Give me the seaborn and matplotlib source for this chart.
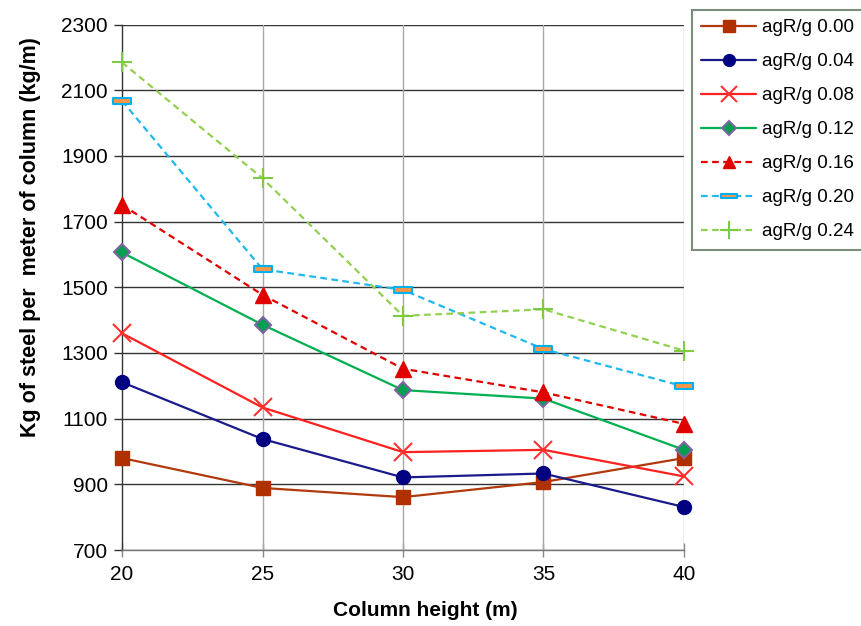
import matplotlib
matplotlib.use("Agg")
import matplotlib.pyplot as plt
import seaborn as sns
import pandas as pd
import numpy as np
from matplotlib.path import Path

heights = [20, 25, 30, 35, 40]
series_labels = ["agR/g 0.00", "agR/g 0.04", "agR/g 0.08", "agR/g 0.12",
                 "agR/g 0.16", "agR/g 0.20", "agR/g 0.24"]
v000 = [980, 889, 861, 907, 980]
v004 = [1211, 1038, 921, 933, 831]
v008 = [1360, 1134, 998, 1005, 924]
v012 = [1606, 1386, 1187, 1161, 1005]
v016 = [1751, 1477, 1252, 1180, 1084]
v020 = [2068, 1555, 1492, 1312, 1198]
v024 = [2185, 1832, 1413, 1433, 1307]
values = [v000, v004, v008, v012, v016, v020, v024]
yticks = [700, 900, 1100, 1300, 1500, 1700, 1900, 2100, 2300]
xticks = [20, 25, 30, 35, 40]

rows = []
for lab, vals in zip(series_labels, values):
    for h, v in zip(heights, vals):
        rows.append({"height": h, "steel": v, "series": lab})
df = pd.DataFrame(rows)

sns.set_theme(style="white")
plt.rcParams['font.family'] = ['Liberation Sans', 'DejaVu Sans']
plt.rcParams['text.color'] = 'black'
plt.rcParams['axes.labelcolor'] = 'black'
plt.rcParams['xtick.color'] = 'black'
plt.rcParams['ytick.color'] = 'black'

fig = plt.figure(figsize=(8.61, 6.26), dpi=100)
ax = fig.add_axes([122/861, 1-550/626, (684-122)/861, (550-24.6)/626])

dash_marker = Path([(-1, -0.32), (1, -0.32), (1, 0.32), (-1, 0.32), (-1, -0.32)],
                   [Path.MOVETO, Path.LINETO, Path.LINETO, Path.LINETO, Path.CLOSEPOLY])

styles = [
    dict(color="#B03A0E", marker="s", ms=10, mfc="#B03000", mec="#B03000", ls="-", mew=1),
    dict(color="#1A1A8C", marker="o", ms=10, mfc="#000080", mec="#000080", ls="-", mew=1),
    dict(color="#FF2020", marker="x", ms=13, mfc="#FF3030", mec="#FF3030", ls="-", mew=1.5),
    dict(color="#00B050", marker="D", ms=8, mfc="#00A050", mec="#8064A2", ls="-", mew=1.5),
    dict(color="#E00000", marker="^", ms=11, mfc="#E00000", mec="#E00000", ls=(0, (3, 2)), mew=1),
    dict(color="#20B8F0", marker=dash_marker, ms=13, mfc="#F79646", mec="#00B0F0", ls=(0, (3, 2)), mew=1.5),
    dict(color="#92D050", marker="+", ms=15, mfc="#92D050", mec="#7CCB40", ls=(0, (3, 2)), mew=1.5),
]

palette = {lab: st["color"] for lab, st in zip(series_labels, styles)}
sns.lineplot(data=df, x="height", y="steel", hue="series", palette=palette,
             hue_order=series_labels, ax=ax, legend=False, linewidth=1.6)

for line, st in zip(ax.get_lines(), styles):
    line.set_linestyle(st["ls"])
    line.set_marker(st["marker"])
    line.set_markersize(st["ms"])
    line.set_markerfacecolor(st["mfc"])
    line.set_markeredgecolor(st["mec"])
    line.set_markeredgewidth(st["mew"])
    line.set_clip_on(False)
    line.set_zorder(3)

ax.set_xlim(20, 40)
ax.set_ylim(700, 2300)
ax.set_xticks(xticks)
ax.set_yticks(yticks)
ax.set_xticklabels([str(t) for t in xticks], fontsize=15, color="black")
ax.set_yticklabels([str(t) for t in yticks], fontsize=15, color="black")

ax.grid(False)
for y in yticks:
    ax.axhline(y, color="#333333", lw=1.0, zorder=1)
for x in xticks[1:]:
    ax.axvline(x, color="#A8A8A8", lw=1.0, zorder=1)

for s in ["top", "right"]:
    ax.spines[s].set_visible(False)
ax.spines["left"].set_color("#333333")
ax.spines["left"].set_linewidth(1.0)
ax.spines["bottom"].set_color("#777777")
ax.spines["bottom"].set_linewidth(1.0)
ax.tick_params(axis="y", which="both", left=True, length=6, width=1, color="#333333", pad=4)
ax.tick_params(axis="x", which="both", bottom=True, direction="inout", length=10, width=1,
               color="#888888", pad=6)

ax.set_xlabel("Column height (m)", fontsize=15, fontweight="bold", color="black")
ax.set_ylabel("Kg of steel per  meter of column (kg/m)", fontsize=15.5, fontweight="bold", color="black")
ax.yaxis.set_label_coords(-0.145, 0.595)
ax.xaxis.set_label_coords(0.54, -0.097)

handles = []
for lab, st in zip(series_labels, styles):
    h = plt.Line2D([], [], color=st["color"], ls=st["ls"], lw=1.6, marker=st["marker"],
                   ms=st["ms"] * 0.85, mfc=st["mfc"], mec=st["mec"], mew=st["mew"])
    handles.append(h)
leg = fig.legend(handles, series_labels, loc="upper left",
                 bbox_to_anchor=(692/861, 1-10/626), bbox_transform=fig.transFigure,
                 fontsize=13.5, frameon=True, fancybox=False, borderpad=0.5,
                 labelspacing=0.9, handlelength=2.9, handletextpad=0.35, borderaxespad=0)
leg.get_frame().set_edgecolor("#5A705A")
leg.get_frame().set_linewidth(1.5)
for t in leg.get_texts():
    t.set_color("black")

fig.savefig("out.png", dpi=100)
